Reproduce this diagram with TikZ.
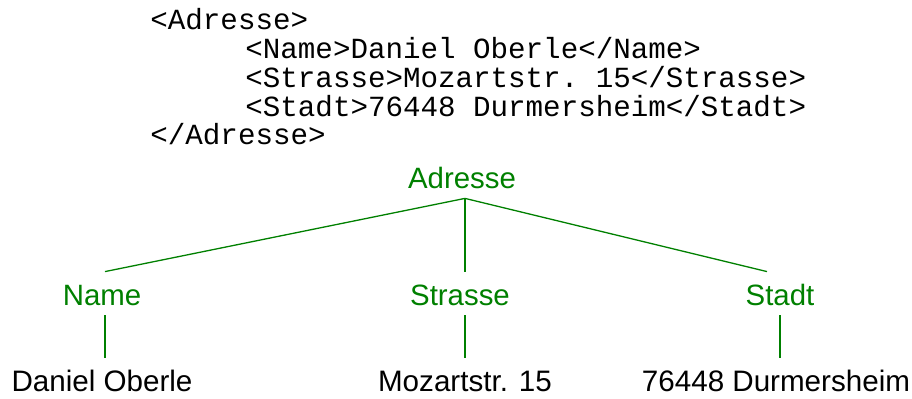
\documentclass[tikz,border=0pt]{standalone}
\usepackage{fontspec}
\setmainfont{Liberation Sans}
\setmonofont{Liberation Mono}
\definecolor{treegreen}{RGB}{0,128,0}

\begin{document}
\begin{tikzpicture}[x=0.5pt,y=-0.5pt,
		xmlline/.style={anchor=base west,inner sep=0pt,font=\fontsize{14.6pt}{14.6pt}\ttfamily},
		tag/.style={anchor=base,inner sep=0pt,text height=17pt,text depth=4.5pt,text=treegreen,font=\fontsize{14.7pt}{14.7pt}\selectfont},
		leaf/.style={anchor=base,inner sep=0pt,text height=17pt,text depth=0pt,font=\fontsize{14.8pt}{14.8pt}\selectfont},
		branch/.style={draw=treegreen,line width=0.65pt}]
		\useasboundingbox (0,0) rectangle (912,399);
		\def\dy{28.75}
		% the XML source
		\node[xmlline] (open)   at (150,30)       {<Adresse>};
		\node[xmlline] (name)   at (245,30+\dy)   {<Name>Daniel Oberle</Name>};
		\node[xmlline] (street) at (245,30+2*\dy) {<Strasse>Mozartstr. 15</Strasse>};
		\node[xmlline] (city)   at (245,30+3*\dy) {<Stadt>76448 Durmersheim</Stadt>};
		\node[xmlline] (close)  at (150,30+4*\dy) {</Adresse>};
		% the same document as a tree
		\node[tag] (root)    at (462,189) {Adresse};
		\node[tag] (tname)   at (102,306) {Name};
		\node[tag] (tstreet) at (460,306) {Strasse};
		\node[tag] (tcity)   at (780,306) {Stadt};
		\node[leaf] (vname)   at (102,392) {Daniel Oberle};
		\node[leaf] (vstreet) at (465,392) {Mozartstr. 15};
		\node[leaf] (vcity)   at (776,392) {76448 Durmersheim};
		\draw[branch] ([xshift=1.5pt]root.south) -- ([xshift=1.5pt]tname.north);
		\draw[branch] ([xshift=1.5pt]root.south) -- ([xshift=2.5pt]tstreet.north);
		\draw[branch] ([xshift=1.5pt]root.south) -- ([xshift=-6.5pt]tcity.north);
		\draw[branch] ([xshift=1.5pt]tname.south) -- ([xshift=1.5pt]tname.south |- vname.north);
		\draw[branch] ([xshift=2.5pt]tstreet.south) -- ([xshift=2.5pt]tstreet.south |- vstreet.north);
		\draw[branch] (tcity.south) -- (tcity.south |- vcity.north);
	\end{tikzpicture}
\end{document}
